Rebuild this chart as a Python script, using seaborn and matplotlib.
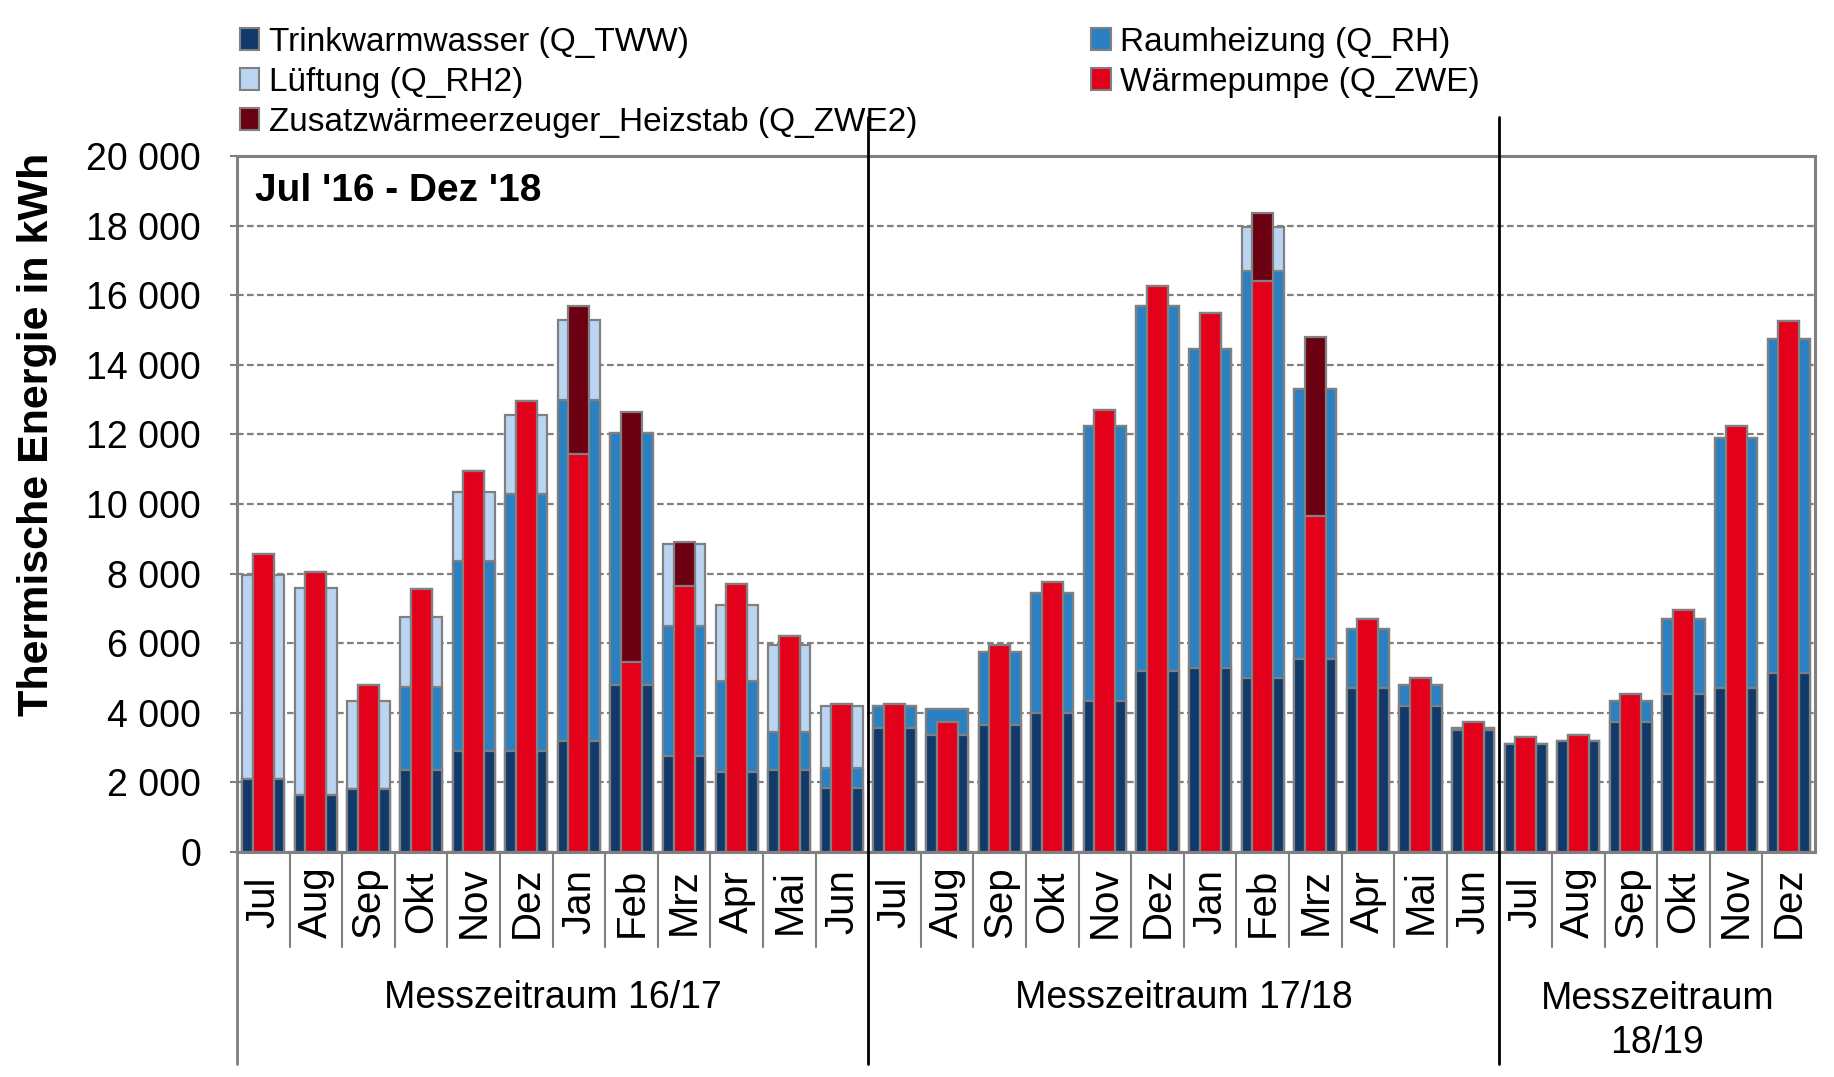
import numpy as np
import pandas as pd
import matplotlib
matplotlib.use("Agg")
import matplotlib.pyplot as plt
import matplotlib.transforms as mtrans
from matplotlib.patches import Patch
from matplotlib.ticker import FuncFormatter
import seaborn as sns

months = ["Jul", "Aug", "Sep", "Okt", "Nov", "Dez", "Jan", "Feb", "Mrz", "Apr", "Mai", "Jun",
          "Jul", "Aug", "Sep", "Okt", "Nov", "Dez", "Jan", "Feb", "Mrz", "Apr", "Mai", "Jun",
          "Jul", "Aug", "Sep", "Okt", "Nov", "Dez"]
periods = ["Messzeitraum 16/17", "Messzeitraum 17/18", "Messzeitraum\n18/19"]
period_len = [12, 12, 6]

# Trinkwarmwasser (Q_TWW)
tww = [2100, 1650, 1800, 2350, 2900, 2900, 3200, 4800, 2750, 2300, 2350, 1850,
       3550, 3350, 3650, 4000, 4350, 5200, 5300, 5000, 5550, 4700, 4200, 3500,
       3100, 3200, 3750, 4550, 4700, 5150]
# Raumheizung (Q_RH)
rh = [0, 0, 0, 2400, 5450, 7400, 9800, 7250, 3750, 2600, 1100, 550,
      650, 750, 2100, 3450, 7900, 10500, 9150, 11700, 7750, 1700, 600, 50,
      0, 0, 600, 2150, 7200, 9600]
# Lüftung (Q_RH2)
rh2 = [5850, 5950, 2550, 2000, 2000, 2250, 2300, 0, 2350, 2200, 2500, 1800,
       0, 0, 0, 0, 0, 0, 0, 1250, 0, 0, 0, 0,
       0, 0, 0, 0, 0, 0]
# Wärmepumpe (Q_ZWE)
zwe = [8550, 8050, 4800, 7550, 10950, 12950, 11450, 5450, 7650, 7700, 6200, 4250,
       4250, 3750, 5950, 7750, 12700, 16250, 15500, 16400, 9650, 6700, 5000, 3750,
       3300, 3350, 4550, 6950, 12250, 15250]
# Zusatzwärmeerzeuger_Heizstab (Q_ZWE2)
zwe2 = [0, 0, 0, 0, 0, 0, 4250, 7200, 1250, 0, 0, 0,
        0, 0, 0, 0, 0, 0, 0, 1950, 5150, 0, 0, 0,
        0, 0, 0, 0, 0, 0]

labels = ["Trinkwarmwasser (Q_TWW)", "Raumheizung (Q_RH)", "Lüftung (Q_RH2)",
          "Wärmepumpe (Q_ZWE)", "Zusatzwärmeerzeuger_Heizstab (Q_ZWE2)"]

c_tww = "#113A6B"
c_rh = "#2B80C2"
c_rh2 = "#BAD5F2"
c_zwe = "#E3001B"
c_zwe2 = "#6C0013"
edge = "#808080"

sns.set_theme(style="white")
plt.rcParams["font.family"] = ["Liberation Sans", "DejaVu Sans"]
plt.rcParams["text.color"] = "black"
plt.rcParams["xtick.labelcolor"] = "black"
plt.rcParams["ytick.labelcolor"] = "black"

W, H = 1834, 1077
fig = plt.figure(figsize=(W / 100, H / 100), dpi=100)
ax_l, ax_r, ax_t, ax_b = 237, 1815, 156, 852
ax = fig.add_axes([ax_l / W, 1 - ax_b / H, (ax_r - ax_l) / W, (ax_b - ax_t) / H])

keys = [f"{m}_{i}" for i, m in enumerate(months)]
t = np.array(tww)
s2 = t + np.array(rh)
s3 = s2 + np.array(rh2)
r1 = np.array(zwe)
r2 = r1 + np.array(zwe2)
df = pd.DataFrame({"key": keys, "s1": t, "s2": s2, "s3": s3, "r1": r1, "r2": r2})

layers = [("s3", c_rh2, 0.8), ("s2", c_rh, 0.8), ("s1", c_tww, 0.8),
          ("r2", c_zwe2, 0.4), ("r1", c_zwe, 0.4)]
for col, color, w in layers:
    sns.barplot(data=df, x="key", y=col, order=keys, color=color, width=w,
                saturation=1, edgecolor=edge, linewidth=1.6, errorbar=None, ax=ax)

ax.set_xlim(-0.5, len(months) - 0.5)
ax.set_ylim(0, 20000)
ax.set_yticks(np.arange(0, 20001, 2000))
ax.yaxis.set_major_formatter(FuncFormatter(lambda v, p: f"{v:,.0f}".replace(",", " ")))
ax.grid(axis="y", linestyle=(0, (3, 1.5)), color="#808080", linewidth=1.6)
ax.set_axisbelow(True)
for s in ax.spines.values():
    s.set_visible(True)
    s.set_color(edge)
    s.set_linewidth(2.2)
ax.set_xlabel("")
ax.set_ylabel("")
ax.tick_params(axis="y", labelsize=27, length=5, width=1.5, color=edge, pad=21,
               left=True, direction="out", labelcolor="black")
ax.set_xticks(range(len(months)))
ax.set_xticklabels(months, rotation=90, fontsize=29)
ax.tick_params(axis="x", length=0, pad=36, labelcolor="black")
for lbl in ax.get_xticklabels():
    lbl.set_verticalalignment("center")

trans = mtrans.blended_transform_factory(ax.transData, ax.transAxes)
bounds = np.cumsum(period_len)
for i in range(len(months)):
    xb = i - 0.5
    if i == 0:
        ax.plot([xb, xb], [0, -0.305], color=edge, lw=2, transform=trans, clip_on=False)
    elif i in bounds:
        ax.plot([xb, xb], [1.056, -0.305], color="black", lw=2, transform=trans,
                clip_on=False, zorder=5)
    else:
        ax.plot([xb, xb], [0, -0.137], color=edge, lw=1.5, transform=trans, clip_on=False)

start = 0
for name, n in zip(periods, period_len):
    xc = start + (n - 1) / 2
    yc = -0.243 if "\n" in name else -0.21
    ax.text(xc, yc, name, transform=trans, ha="center", va="center", fontsize=27,
            linespacing=1.3, color="black")
    start += n

ax.text(18 / (ax_r - ax_l), 0.95, "Jul '16 - Dez '18", transform=ax.transAxes,
        fontsize=28, fontweight="bold", ha="left", va="center", color="black")

fig.text(37 / W, 1 - 434 / H, "Thermische Energie in kWh", rotation=90,
         fontsize=31, fontweight="bold", ha="center", va="center", color="black")

handles = {
    labels[0]: Patch(facecolor=c_tww, edgecolor=edge, linewidth=1.5),
    labels[1]: Patch(facecolor=c_rh, edgecolor=edge, linewidth=1.5),
    labels[2]: Patch(facecolor=c_rh2, edgecolor=edge, linewidth=1.5),
    labels[3]: Patch(facecolor=c_zwe, edgecolor=edge, linewidth=1.5),
    labels[4]: Patch(facecolor=c_zwe2, edgecolor=edge, linewidth=1.5),
}
order = [labels[0], labels[2], labels[4], labels[1], labels[3]]
fig.legend([handles[k] for k in order], order, loc="upper left",
           bbox_to_anchor=(240 / W, 0.975), ncol=2, frameon=False, fontsize=24,
           handlelength=0.58, handleheight=0.62, handletextpad=0.3, columnspacing=5.2,
           borderpad=0, borderaxespad=0, labelspacing=0.27, labelcolor="black")

fig.savefig("out.png", dpi=100)
